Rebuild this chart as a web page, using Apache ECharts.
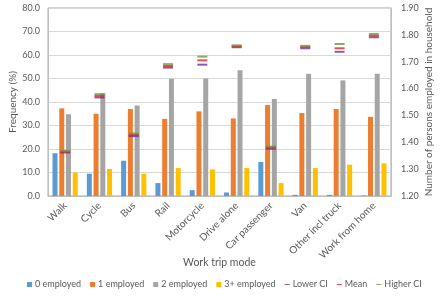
<!DOCTYPE html>
<html>
<head>
<meta charset="utf-8">
<script src="https://cdn.jsdelivr.net/npm/echarts@6/dist/echarts.min.js"></script>
<style>
  html, body { margin: 0; padding: 0; background: #fff; }
  #chart { width: 442px; height: 297px; }
</style>
</head>
<body>
<div id="chart"></div>
<script>
// Kategorien (Work trip mode)
const modes = ['Walk', 'Cycle', 'Bus', 'Rail', 'Motorcycle', 'Drive alone',
  'Car passenger', 'Van', 'Other incl truck', 'Work from home'];

// Häufigkeiten in % (linke Achse)
const emp0 = [18.2, 9.5, 15.0, 5.5, 2.5, 1.5, 14.5, 0.5, 0.5, 0.2];
const emp1 = [37.3, 35.0, 37.0, 32.8, 36.0, 33.0, 38.7, 35.3, 37.0, 33.7];
const emp2 = [34.8, 43.8, 38.5, 49.9, 50.0, 53.5, 41.3, 52.0, 49.2, 52.0];
const emp3 = [10.0, 11.5, 9.5, 11.9, 11.3, 11.9, 5.5, 11.9, 13.3, 13.9];

// Mittelwert + Konfidenzintervall (rechte Achse)
const lowerCI = [1.362, 1.567, 1.423, 1.678, 1.689, 1.754, 1.376, 1.750, 1.737, 1.791];
const meanV   = [1.365, 1.573, 1.428, 1.684, 1.705, 1.757, 1.380, 1.755, 1.750, 1.797];
const higherCI = [1.368, 1.579, 1.433, 1.691, 1.719, 1.761, 1.384, 1.759, 1.766, 1.803];

const txt = '#595959';
const font = 'Lato';
const dash = 'path://M0,0M10,10M0,4H10V6H0Z';

const chart = echarts.init(document.getElementById('chart'));

function barSeries(name, data, color) {
  return {
    name: name, type: 'bar', data: data, yAxisIndex: 0,
    barWidth: 5, barGap: '35%',
    itemStyle: { color: color }
  };
}
function ciSeries(name, data, color) {
  return {
    name: name, type: 'scatter', data: data, yAxisIndex: 1,
    symbol: 'rect', symbolSize: [10, 2],
    itemStyle: { color: color }, z: 5
  };
}

chart.setOption({
  animation: false,
  textStyle: { fontFamily: font },
  grid: { left: 40, right: 51, top: 8, bottom: 101, show: true, borderColor: '#A6A6A6', borderWidth: 1 },
  legend: {
    left: 22, width: 420, bottom: 3, itemWidth: 5, itemHeight: 5, itemGap: 9,
    textStyle: { color: txt, fontSize: 9, fontFamily: font, padding: [0, 0, 0, -2] },
    data: [
      { name: '0 employed', icon: 'rect' },
      { name: '1 employed', icon: 'rect' },
      { name: '2 employed', icon: 'rect' },
      { name: '3+ employed', icon: 'rect' },
      { name: 'Lower CI', icon: dash },
      { name: 'Mean', icon: dash },
      { name: 'Higher CI', icon: dash }
    ]
  },
  xAxis: {
    type: 'category', data: modes,
    name: 'Work trip mode', nameLocation: 'middle', nameGap: 61, nameMoveOverlap: false,
    nameTextStyle: { color: txt, fontSize: 10.5, fontFamily: font },
    axisLine: { lineStyle: { color: '#BFBFBF' } },
    axisTick: { show: false },
    axisLabel: { rotate: 45, color: txt, fontSize: 10, margin: 8, interval: 0 }
  },
  yAxis: [
    {
      type: 'value', min: 0, max: 80, interval: 10,
      name: 'Frequency (%)', nameLocation: 'middle', nameGap: 30, nameMoveOverlap: false,
      nameTextStyle: { color: txt, fontSize: 10, fontFamily: font },
      axisLine: { show: true, lineStyle: { color: '#BFBFBF' } },
      axisLabel: { color: txt, fontSize: 9, margin: 8, formatter: v => v.toFixed(1) },
      splitLine: { lineStyle: { color: '#D9D9D9' } }
    },
    {
      type: 'value', min: 1.2, max: 1.9, interval: 0.1, position: 'right',
      name: 'Number of persons employed in household', nameLocation: 'middle', nameGap: 33,
      nameRotate: 90, nameMoveOverlap: false,
      nameTextStyle: { color: txt, fontSize: 10, fontFamily: font },
      axisLine: { show: true, lineStyle: { color: '#BFBFBF' } },
      axisLabel: { color: txt, fontSize: 9, margin: 10, formatter: v => v.toFixed(2) },
      splitLine: { show: false }
    }
  ],
  series: [
    barSeries('0 employed', emp0, '#5B9BD5'),
    barSeries('1 employed', emp1, '#ED7D31'),
    barSeries('2 employed', emp2, '#A5A5A5'),
    barSeries('3+ employed', emp3, '#FFC000'),
    ciSeries('Lower CI', lowerCI, '#7030A0'),
    ciSeries('Mean', meanV, '#E0202A'),
    ciSeries('Higher CI', higherCI, '#70963C')
  ]
});

window.addEventListener('resize', () => chart.resize());
</script>
</body>
</html>
